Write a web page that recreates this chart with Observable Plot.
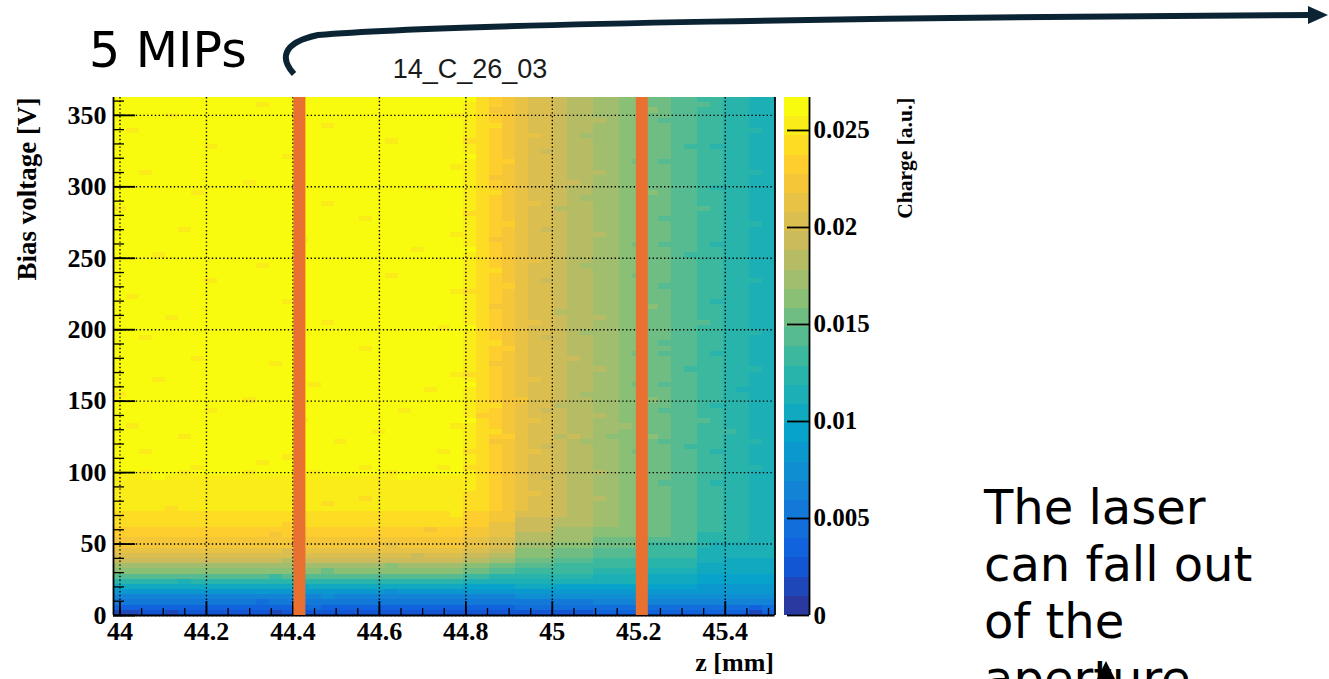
<!DOCTYPE html>
<html><head><meta charset="utf-8">
<script src="https://cdn.jsdelivr.net/npm/d3@7"></script>
<script src="https://cdn.jsdelivr.net/npm/@observablehq/plot@0.6"></script>
<style>
html,body{margin:0;padding:0;background:#fff;overflow:hidden;}
#page{position:relative;width:1329px;height:679px;overflow:hidden;background:#fff;}
#page > *{position:absolute;top:0;}
</style></head>
<body><div id="page"></div>
<script>
// ---------------- data ----------------
const zRange = [43.985, 45.515];      // z [mm] histogram range
const zBinCount = 51;
const voltRange = [0, 362.5];         // bias voltage [V] histogram range
const voltBinCount = 100;
const chargeMax = 0.0267;             // colour axis maximum
const contourCount = 27;              // number of colour bands
const bandCodes = "0123456789abcdefghijklmnopq"; // band index of each cell's charge

// charge band per cell, one string per voltage bin (bottom row first), one char per z bin
const chargeRowsLow = [
"112212222 222122222 222222222 222222222 233333333 333313",
"333333333 333333433 333333333 333344444 444444444 444434",
"555555555 554555555 555555555 555555555 566666666 666666",
"666666666 666666676 666666666 666677777 777777777 777777",
"888888888 888888888 888788888 888888888 888888888 888888",
"aaaaaaaaa aaaaa9aaa aaaaaaaaa 9999aaa99 999999999 888888",
"cccccbccc ccccccccc ccccccccc bbbbbbbbb bbbbbaaaa 999999",
"eeeeeeeee eeedeeeee eeeeeeeee ddccccccc cbbbbaaaa 999999",
"ggggggggg gggggggfg ggggggggg ffeeddddd dccccbbbb aaaaaa",
"hhhhhhhhh hhhhhhhhh hhhghhhhh ggffeeedd dddddcccc aaaaaa",
"jjjjjjjjj jjjjijjjj jjjjjjjjj iihhfffee eddddcccc bbaaaa",
"kkkkkkkkk kkkkkkkkk kkkkkjkkk jjiigggff feeeedddd bbbbbb",
"lllllllll llllkllll lllllllll kkjjgggff feeeedddd bbbbbb",
"mmmmmmmmm mmmmmmmmm mmmlmmmmm llkkhhhgg gffffdddd cbbbbb",
"mmmmmmmmm mmmmmmmmm mmmmmmmmm llkkiiihh hffffeeee ccccbb",
"nnnnnnnnn nnnmnnnnn nnnnnnnnn mmlliiihh hggggffee ccccbb",
"nnnnnnnnn nnnnnnnnn nnnnnnmnn mmlljjjhh hggggffee ddccbb",
"ooooooooo oooonoooo ooooooooo nnlljjjii ihhggffee ddccbb",
"ooooooooo ooooooooo ooooooooo nnmmjjjii ihhggffee ddccbb",
"ooooooooo ooooooooo oooooooop nnmmkkkji ihhggffee ddccbb",
"ppppopppp ppppppppp ppppppppp oonmlkkji ihhggffee ddccbb",
"ppppppppp pppppppop ppppppppp oonmlkkji ihhggffee ddccbb",
"ppppppppp ppppppppp poppppppp oonmlkkji iihggffee ddccbb",
"ppppppppp ppppppppp ppppppppp oonmllkji ihhggffee ddccbb",
"ppppppppp ppppppppp ppppppppp ponmlkkji ihhggffee ddccbb",
"ppppppppp ppppppppp ppppppppp ponmlkkji ihhggfeee dcccbb",
"pppqppppp ppppppppp ppppqpppp ponmlkjji ihhggffee ddccbb",
"qqpqqpqqq qpqqqqpqq qqqpqqqqq ponmlkkji iihggffee ddccbb",
"qqqqqqpqq qqqqqqqqq qpqqqqqpq oonmlkkji ihhggffee ddcccb",
"qqqqqqqqq qqpqqqqqq qqqqqqqqq ponmlkkji ihhggffee ddccbb"
];
const chargeRowsHigh = [
"qqqqqqqqq qqqqpqqqq qqqqqqqqq ponmlkkji ihhggffee ddccbb",
"qqpqqqqqq qqqqqqqqq qqqqqqqpq oonmllkji ihhgfffee dcccbb",
"qqqqqqqqq qqqqqqqqq qqqqqqqqq ponmlkjji ihhggffed ddccbb",
"qqqqqqqqq qqqqqqqqp qqqqqqqqq pommlkkji hhhggfeee ddcccb",
"qqqqqpqqq qqqqqqqqq qqqqqqqqq ponnlkkij ihggggfee ddccbb",
"qqqqqqqqq qqqqqqqqq qqpqqqqqq poomlkkji ihhggffee dddcbb",
"qpqqqqqqq qqqqqqqqq qqqqqqqqp ponmlkkji ihhhgffee ddccbb",
"qqqqqqqqq qqqqqpqqq qqqqqqqqq qonmllkji ihhggffee edccbb",
"qqqqqqqqq qqqqqqqqq qqqqqqqqq pnnmlkkji iihggffee ddccbb",
"qqqqqqqpq qqqqqqqqq qqqqpqqqq ponmlkjji ihhggfeee ddccbb",
"qqqqqqqqq qqqqqqqqq qqqqqqqqq poomlkkii ihhggffee dcccbb",
"qqqqqqqqq qpqqqqqqq qqqqqqqqq ponmmkkji ihhgggfee ddccbb",
"pqqqqqqqq qqqqqqqqq qqqqqqqqq ponmlkkji hhhggffee ddccbb",
"qqqqqqqqq qqqqqqqqq qqqqqqpqq ponmlkkji ihhggffee ddcbbb",
"qqqqqqqqq qqqqqqpqq qqqqqqqqq qonmlkkji ihhgffeee ddccbb",
"qqqpqqqqq qqqqqqqqq qqqqqqqqq ponmllkji ihhggffee ddccbb",
"qqqqqqqqq qqqqqqqqq qqqqqqqqp oonmlkkji ihhggffee ddccbb",
"qqqqqqqqq qqqqqqqqq qqqqqqqqq ponmlkkji iihggffed ddcccb",
"qqqqqqqqq qqqpqqqqq qqqqqqqqq pommlkkji ihhggffee ddccbb",
"qqqqqqpqq qqqqqqqqq qqqqqqqqq ponmlkkjj ihhggffee ddccbb",
"qqqqqqqqq qqqqqqqqq qqqqqqqqq ponmlkkji ihhgffeee dcccbb",
"qqqqqqqqq qqqqqqqqq qpqqqqqqq ponnlkkji ihhggffee ddccbb",
"qqqqqqqqq qqqqqqqqq qqqqqqqqq poomlkkji ihhggfeee ddccbb",
"qqpqqqqqq qqqqqqqqq qqqqqqqqq ponmlkjji ihhggffee ddccbb",
"qqqqqqqqq qqqqqqqqq qqqqqqqqq ponmlkkji hhhggffee ddcccb",
"qqqqqqqqq qqqqqqqqq qqqqqqqpq qonmlkkji ihhggffee ddccbb",
"qqqqqqqqq qqqqqqqpq qqqqqqqqq ponmllkji ihhggffee edccbb",
"qqqqpqqqq qqqqqqqqq qqqqqqqqq ponmlkkji iihggffee ddccbb",
"qqqqqqqqq qqqqqqqqq qqqqqqqqq ponmlkkii ihhggffee ddccbb",
"qqqqqqqqq qqqqqqqqq qqqqqqqqq pommlkkji ihhgggfee ddccbb",
"qqqqqqqqq qqqqpqqqq qqqqqqqqq ponmlkkji ihhggffee dcccbb",
"qpqqqqqqq qqqqqqqqq qqqqqqqqq ponmlkkji ihhggffee ddccbb",
"qqqqqqqqq qqqqqqqqq qqqqqqqqp oonmlkkji ihhggffee ddccbb",
"qqqqqqqqq qqqqqqqqq qqqqqqqqq ponnlkkji ihhggfeee ddccbb",
"qqqqqqqpq qqqqqqqqq qqqqqqqqq ponmlkjji ihhggffee ddcccb",
"qqqqqqqqq qqqqqqqqq qqqpqqqqq ponmlkkji ihhgfffee ddccbb",
"qqqqqqqqq qqqqqqqqq qqqqqqqqq poomlkkji ihhggffee ddccbb",
"qqqqqqqqq qqpqqqqqq qqqqqqqqq ponmlkkji hhhggffee ddccbb",
"qqqqqqqqq qqqqqqqqq qqqqqqqqq ponmllkji ihhggffee ddccbb",
"qqqpqqqqq qqqqqqqqq qqqqqqqqq ponmlkkji ihhggffed ddccbb",
"qqqqqqqqq qqqqqqqqq qqqqqpqqq qonmlkkji ihhggffee ddccbb",
"qqqqqqqqq qqqqqqqqq qqqqqqqqq ponmlkkji ihhgffeee dcccbb",
"qqqqqqqqq qqqqqpqqq qqqqqqqqq pommlkkji ihhggffee ddccbb",
"qqqqqqqqq qqqqqqqqq qqqqqqqqp ponmlkkji iihggffee ddccbb",
"qqqqqpqqq qqqqqqqqq qqqqqqqqq ponmlkjji ihhggffee ddccbb",
"qqqqqqqqq qqqqqqqqq qqqqqqqqq ponnlkkji ihhggffee ddcccb",
"qqqqqqqqq qqqqqqqqq qpqqqqqqq ponmlkkji ihhggfeee ddccbb",
"qqqqqqqqq qqqqqqqqq qqqqqqqqq oonmlkkji ihhggffee ddccbb",
"pqqqqqqqq qqqqqqqqq qqqqqqqqq ponmlkkii ihhggffee edccbb",
"qqqqqqqqq qqqqqqqpq qqqqqqqqq ponmllkji ihhggffee ddccbb",
"qqqqqqqqq qqqqqqqqq qqqqqqqqq ponmlkkji hhhggffee ddccbb",
"qqqqqqpqq qqqqqqqqq qqqqqqqqq poomlkkji ihhgggfee ddccbb",
"qqqqqqqqq qqqqqqqqq qqqqqqpqq ponmlkkji ihhggffee dcccbb",
"qqqqqqqqq qpqqqqqqq qqqqqqqqq ponmlkkjj ihhggffee ddccbb",
"qqqqqqqqq qqqqqqqqq qqqqqqqqq pommlkkji ihhggffee ddccbb",
"qqpqqqqqq qqqqqqqqq qqqqqqqqq ponmlkkji iihggffee ddcccb",
"qqqqqqqqq qqqqqqqqq qqqqqqqqp ponmlkkji ihhggffee ddccbb",
"qqqqqqqqq qqqqqqqqq qqqqqqqqq ponnlkkji ihhgffeee ddccbb",
"qqqqqqqqq qqqqpqqqq qqqqqqqqq qonmlkkji ihhggffee ddccbb",
"qqqqqqqqq qqqqqqqqq qqqqqqqqq ponmlkjji ihhggffee ddccbb",
"qqqqqqqpq qqqqqqqqq qqqqqqqqq ponmlkkji ihhggffed dcccbb",
"qqqqqqqqq qqqqqqqqq qqqpqqqqq oonmlkkji ihhggffee ddccbb",
"qqqqqqqqq qqqqqqqqq qqqqqqqqq ponmllkji hhhggffee ddccbb",
"qpqqqqqqq qqqqqqqqq qqqqqqqqq ponmlkkji ihhggffee ddcccb",
"qqqqqqqqq qqqqqqqpq qqqqqqqqq poomlkkji ihhggffee ddccbb",
"qqqqqqqqq qqqqqqqqq qqqqqqqqq ponmlkkji iihggfeee ddccbb",
"qqqqpqqqq qqqqqqqqq qqqqqqqqp ponmlkkji ihhggffee ddccbb",
"qqqqqqqqq qqqqqqqqq qqqqqqqqq pommlkkji ihhgggfee ddccbb",
"qqqqqqqqq qqpqqqqqq qqqqqqqqq ponmlkkji ihhggffee edccbb",
"qqqqqqqqq qqqqqqqqq qqqqqqqqq qonmlkkji ihhggffee ddccbb"
];

const laserMarksZ = [44.415, 45.207];               // orange marker lines
const zTicks = [44, 44.2, 44.4, 44.6, 44.8, 45, 45.2, 45.4];
const voltTicks = [0, 50, 100, 150, 200, 250, 300, 350];
const chargeTicks = [0, 0.005, 0.01, 0.015, 0.02, 0.025];
const birdStops = [0, 0.125, 0.25, 0.375, 0.5, 0.625, 0.75, 0.875, 1];
const birdColors = ["#352a87", "#0f5cdd", "#1481d6", "#06a4ca", "#2eb7a4", "#87bf77", "#d1bb59", "#fec832", "#f9fb0e"];

// ---------------- build ----------------
const bandW = chargeMax / contourCount;
const dz = (zRange[1] - zRange[0]) / zBinCount;
const dv = (voltRange[1] - voltRange[0]) / voltBinCount;
const rowStrings = chargeRowsLow.concat(chargeRowsHigh).map(s => {
  let t = s.replace(/ /g, "");
  if (t.length !== zBinCount) { console.warn("row length", t.length, s); t = t.padEnd(zBinCount, t[t.length - 1]).slice(0, zBinCount); }
  return t;
});
const cells = rowStrings.flatMap((s, j) => Array.from(s, (c, i) => ({
  z1: zRange[0] + i * dz, z2: zRange[0] + (i + 1) * dz,
  v1: voltRange[0] + j * dv, v2: voltRange[0] + (j + 1) * dv,
  charge: (bandCodes.indexOf(c) + 0.5) * bandW
})));
const bird = d3.scaleLinear().domain(birdStops).range(birdColors).interpolate(d3.interpolateRgb).clamp(true);
const colorCfg = {
  type: "threshold",
  domain: d3.range(1, contourCount).map(k => k * bandW),
  range: d3.range(contourCount).map(k => bird((k + 1) / contourCount))
};
const zMinor = d3.range(0, 31).map(i => +(44 + i * 0.05).toFixed(2)).filter(v => v <= zRange[1]);
const voltMinor = d3.range(0, 361, 10);

const serif = "'Liberation Serif', 'Times New Roman', serif";
const W = 780, H = 679, mL = 113, mR = 5.5, mT = 97, mB = 64;
const frameW = W - mL - mR, frameH = H - mT - mB;
const black = "#000";
const gridStyle = {stroke: black, strokeOpacity: 1, strokeWidth: 1.4, strokeDasharray: "1.4,2.4"};

const main = Plot.plot({
  width: W, height: H, marginLeft: mL, marginRight: mR, marginTop: mT, marginBottom: mB,
  style: {fontFamily: serif, fontWeight: "bold", fontSize: "26px", background: "transparent", overflow: "visible", maxWidth: "none"},
  x: {domain: zRange, label: null},
  y: {domain: voltRange, label: null},
  color: colorCfg,
  marks: [
    Plot.rect(cells, {x1: "z1", x2: "z2", y1: "v1", y2: "v2", fill: "charge", shapeRendering: "crispEdges"}),
    Plot.gridX(zTicks, {x: d => d, ...gridStyle}),
    Plot.gridY(voltTicks, {y: d => d, ...gridStyle}),
    Plot.tickX(zMinor, {x: d => d, insetTop: frameH - 7, stroke: black, strokeWidth: 1.3}),
    Plot.tickX(zTicks, {x: d => d, insetTop: frameH - 14, stroke: black, strokeWidth: 1.8}),
    Plot.tickY(voltMinor, {y: d => d, insetRight: frameW - 11, stroke: black, strokeWidth: 1.3}),
    Plot.tickY(voltTicks, {y: d => d, insetRight: frameW - 22, stroke: black, strokeWidth: 1.8}),
    Plot.ruleX([zRange[0], zRange[1]], {x: d => d, stroke: black, strokeWidth: 1.8}),
    Plot.ruleY([voltRange[0]], {y: d => d, stroke: black, strokeWidth: 1.8}),
    Plot.axisX(zTicks, {tickSize: 0, tickPadding: 6, tickFormat: d => String(d), label: null, fontSize: 26, fontWeight: "bold", fontFamily: serif}),
    Plot.axisY(voltTicks, {tickSize: 0, tickPadding: 7, tickFormat: d => String(d), label: null, fontSize: 26, fontWeight: "bold", fontFamily: serif}),
    Plot.ruleX(laserMarksZ, {x: d => d, stroke: "#e87132", strokeWidth: 12}),
    Plot.text(["z [mm]"], {frameAnchor: "bottom-right", dx: -1, dy: 47, textAnchor: "end", lineAnchor: "middle", fontSize: 26, fontWeight: "bold", fontFamily: serif}),
    Plot.text(["Bias voltage [V]"], {frameAnchor: "top-left", rotate: -90, textAnchor: "end", lineAnchor: "middle", dx: -86, dy: 0, fontSize: 27, fontWeight: "bold", fontFamily: serif})
  ]
});

const bands = d3.range(contourCount).map(k => ({y1: k * bandW, y2: Math.min((k + 1) * bandW, chargeMax), charge: (k + 0.5) * bandW}));
const CW = 150, cL = 14, cBar = 25;
const cbar = Plot.plot({
  width: CW, height: H, marginLeft: cL, marginRight: CW - cL - cBar, marginTop: mT, marginBottom: mB,
  style: {fontFamily: serif, fontWeight: "bold", fontSize: "25px", background: "transparent", overflow: "visible", maxWidth: "none"},
  x: {domain: [0, 1], axis: null},
  y: {domain: [0, chargeMax], label: null},
  color: colorCfg,
  marks: [
    Plot.rect(bands, {x1: () => 0, x2: () => 1, y1: "y1", y2: "y2", fill: "charge", shapeRendering: "crispEdges"}),
    Plot.tickY(chargeTicks, {y: d => d, insetLeft: 3, stroke: black, strokeWidth: 1.8}),
    Plot.ruleX([1], {x: d => d, stroke: black, strokeWidth: 1.8}),
    Plot.axisY(chargeTicks, {anchor: "right", tickSize: 0, tickPadding: 4, tickFormat: d => String(d), label: null, fontSize: 25, fontWeight: "bold", fontFamily: serif}),
    Plot.text(["Charge [a.u.]"], {frameAnchor: "top-right", rotate: -90, textAnchor: "end", lineAnchor: "middle", dx: 96, dy: 0, fontSize: 21.5, fontWeight: "bold", fontFamily: serif})
  ]
});
cbar.style.left = "770px";
main.style.left = "0px";

const page = document.getElementById("page");
page.appendChild(main);
page.appendChild(cbar);

// annotation layer (slide text and arrow)
const ns = "http://www.w3.org/2000/svg";
const ann = document.createElementNS(ns, "svg");
ann.setAttribute("width", 1329); ann.setAttribute("height", 679);
ann.style.left = "0px"; ann.style.pointerEvents = "none";
ann.innerHTML = `
  <text x="470" y="78" text-anchor="middle" font-family="'Liberation Sans', Arial, sans-serif" font-size="27" fill="#1a1a1a">14_C_26_03</text>
  <text x="89" y="67" font-family="'DejaVu Sans', Verdana, sans-serif" font-size="49" fill="#000">5 MIPs</text>
  <path d="M 294 74 C 281 60, 280 43, 318 35 C 450 24, 900 17, 1311 15" fill="none" stroke="#0b2434" stroke-width="6"/>
  <polygon points="1308,6 1328,15 1308,24" fill="#0b2434"/>
  <g font-family="'DejaVu Sans', Verdana, sans-serif" font-size="48" fill="#000">
    <text x="984" y="524">The laser</text>
    <text x="984" y="581">can fall out</text>
    <text x="984" y="638">of the</text>
    <text x="984" y="695">aperture</text>
  </g>
  <polygon points="1106,661 1115,679 1097,679" fill="#000"/>
`;
page.appendChild(ann);
</script>
</body></html>
